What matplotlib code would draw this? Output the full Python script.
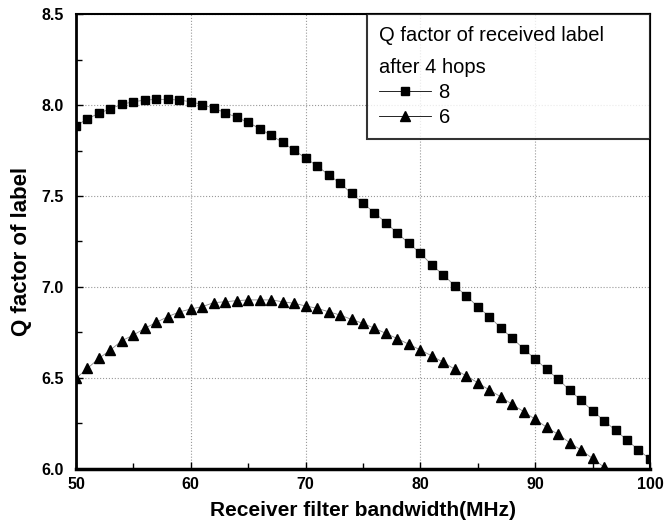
import numpy as np
import matplotlib

matplotlib.use("Agg")
import matplotlib.pyplot as plt
from matplotlib.ticker import MultipleLocator

# receiver filter bandwidth (MHz), one point per MHz
bw_8 = list(range(50, 101))
q_8 = [7.885, 7.925, 7.954, 7.980, 8.004, 8.018, 8.027, 8.031, 8.031, 8.027,
       8.018, 8.002, 7.982, 7.958, 7.932, 7.905, 7.870, 7.833, 7.795, 7.751,
       7.709, 7.665, 7.617, 7.570, 7.515, 7.460, 7.408, 7.353, 7.295, 7.240,
       7.185, 7.121, 7.066, 7.007, 6.951, 6.892, 6.837, 6.776, 6.718, 6.661,
       6.604, 6.548, 6.493, 6.434, 6.377, 6.320, 6.265, 6.213, 6.159, 6.104,
       6.055]

bw_6 = list(range(50, 97))
q_6 = [6.498, 6.553, 6.608, 6.654, 6.705, 6.736, 6.773, 6.806, 6.837, 6.863,
       6.879, 6.892, 6.914, 6.919, 6.925, 6.929, 6.929, 6.929, 6.919, 6.910,
       6.896, 6.883, 6.864, 6.846, 6.822, 6.800, 6.773, 6.745, 6.716, 6.685,
       6.654, 6.621, 6.586, 6.548, 6.511, 6.474, 6.434, 6.397, 6.355, 6.315,
       6.273, 6.229, 6.190, 6.145, 6.104, 6.058, 6.010]

series_labels = ["8", "6"]
legend_title = "Q factor of received label      \nafter 4 hops"

plt.rcParams["font.family"] = ["Liberation Sans", "DejaVu Sans"]

fig = plt.figure(figsize=(6.65, 5.27), dpi=100)
ax = fig.add_axes([0.1143, 0.1101, 0.8631, 0.8633])

ax.plot(bw_8, q_8, color="#888888", lw=0.6, marker="s", ms=5.2,
        mfc="black", mec="black", label=series_labels[0])
ax.plot(bw_6, q_6, color="#888888", lw=0.6, marker="^", ms=7,
        mfc="black", mec="black", label=series_labels[1])

ax.set_xlim(50, 100)
ax.set_ylim(6.0, 8.5)
ax.xaxis.set_major_locator(MultipleLocator(10))
ax.xaxis.set_minor_locator(MultipleLocator(5))
ax.yaxis.set_major_locator(MultipleLocator(0.5))
ax.yaxis.set_minor_locator(MultipleLocator(0.25))
ax.tick_params(which="both", direction="in", labelsize=11.5)
ax.tick_params(axis="y", pad=9)
ax.tick_params(axis="x", pad=6)
ax.tick_params(which="major", length=5, width=1)
ax.tick_params(which="minor", length=4, width=1)
for t in ax.get_xticklabels() + ax.get_yticklabels():
    t.set_fontweight("bold")
ax.grid(which="major", color="#999999", ls=":", lw=0.8)

ax.spines["left"].set_linewidth(2)
ax.spines["bottom"].set_linewidth(2.5)
ax.spines["top"].set_linewidth(1.5)
ax.spines["right"].set_linewidth(1.5)

ax.set_xlabel("Receiver filter bandwidth(MHz)", fontsize=15, fontweight="bold", labelpad=6)
ax.set_ylabel("Q factor of label", fontsize=16, fontweight="bold")
ax.yaxis.set_label_coords(-0.077, 0.478)

leg = ax.legend(title=legend_title, loc="upper right", fontsize=14.5, title_fontsize=14.5,
                frameon=True, fancybox=False, edgecolor="black", borderaxespad=0,
                handlelength=2.6, handletextpad=0.35, labelspacing=0.3,
                borderpad=0.6, alignment="left")
leg.get_frame().set_linewidth(1.5)
leg.get_title().set_linespacing(1.85)
for line in leg.get_lines():
    line.set_color("black")

fig.savefig("out.png", dpi=100)
